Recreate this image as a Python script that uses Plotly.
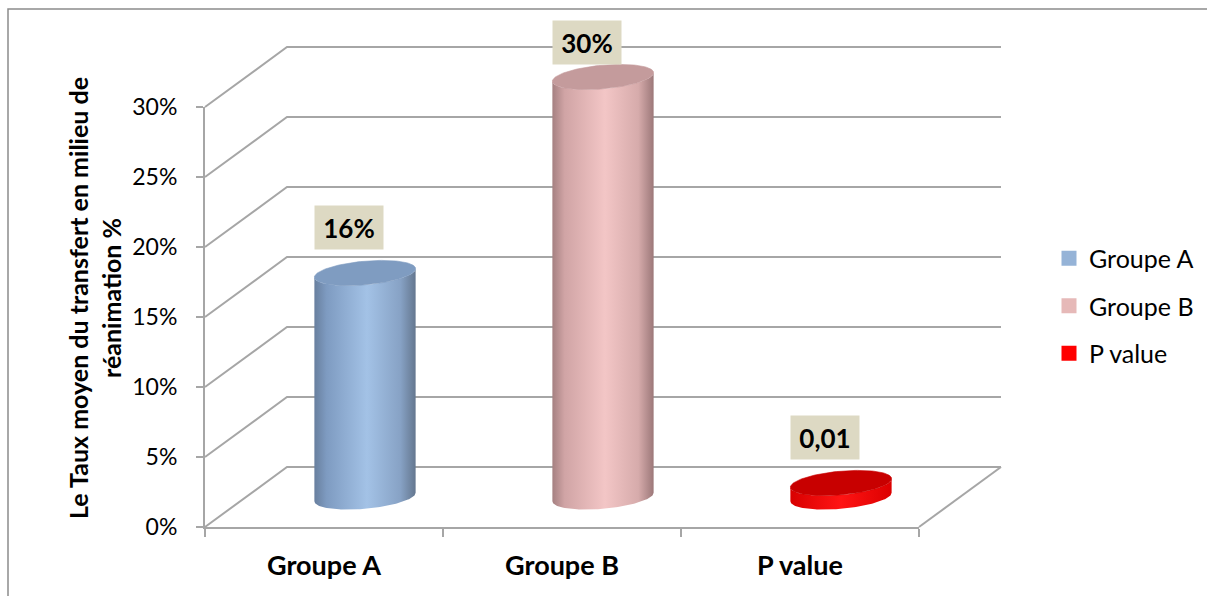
import numpy as np
import plotly.graph_objects as go

# ---- data -----------------------------------------------------------------
CATEGORIES = ["Groupe A", "Groupe B", "P value"]
VALUES = [0.16, 0.30, 0.01]
LABEL_STYLE = ["percent", "percent", "decimal"]
Y_TICKS = [0.0, 0.05, 0.10, 0.15, 0.20, 0.25, 0.30]
Y_MAX = 0.30

# ---- styles ---------------------------------------------------------------
LEGEND_COLORS = ["#95b3d7", "#e6b9b8", "#ff0000"]
BODY_SCALES = [
    [[0, "#687f9e"], [0.12, "#7e9bc1"], [0.52, "#a3c2e6"], [0.85, "#87a2c5"], [1, "#64778f"]],
    [[0, "#a58081"], [0.12, "#d0a4a5"], [0.52, "#f3c6c6"], [0.85, "#d6abab"], [1, "#9c7879"]],
    [[0, "#d80000"], [0.5, "#ff1414"], [1, "#dc0000"]],
]
TOP_COLORS = ["#7f9cc1", "#c49b9c", "#c80000"]
GRID_COLOR = "#a6a6a6"
LABEL_BG = "#ddd9c3"
FONT = "Lato"

# ---- page geometry (pixels) ----------------------------------------------
W, H = 1207, 596
X0_PX = 205          # front-left corner of the floor
Y0_PX = 527          # 0 % line at the front
CAT_PX = 238         # width of one category slot
VAL_PX = 1400        # pixels per unit of value (14 px per %)
DEPTH_PX = (82, -60) # offset from the front plane to the back wall

N = len(CATEGORIES)
DX = DEPTH_PX[0] / CAT_PX      # depth offset in category units
DY = -DEPTH_PX[1] / VAL_PX     # depth offset in value units
RX = 0.2                       # cylinder radius along the category axis
RD = 0.21                      # cylinder radius along the depth (fraction of depth)


def project(c, v, d):
    """Oblique projection of (category, value, depth) onto the drawing axes."""
    return c + d * DX, v + d * DY


fig = go.Figure()

# ---- walls and floor grid -------------------------------------------------
gx, gy = [], []
for v in Y_TICKS:
    for c, d in [(0, 0), (0, 1), (N, 1)]:
        x, y = project(c, v, d)
        gx.append(x)
        gy.append(y)
    gx.append(None)
    gy.append(None)
for d in (0, 1):
    x, y = project(N, 0, d)
    gx.append(x)
    gy.append(y)
fig.add_trace(go.Scatter(x=gx, y=gy, mode="lines", hoverinfo="skip",
                         line=dict(color=GRID_COLOR, width=2), showlegend=False))

# ---- cylinders --------------------------------------------------------------
t0 = np.arctan2(RD * DX, RX)
front = np.linspace(t0 + np.pi, t0 + 2 * np.pi, 80)
full = np.linspace(0, 2 * np.pi, 120)


def ring(c, v, ts):
    xs = c + RX * np.cos(ts) + (0.5 + RD * np.sin(ts)) * DX
    ys = v + (0.5 + RD * np.sin(ts)) * DY
    return xs, ys


for i, (cat, val) in enumerate(zip(CATEGORIES, VALUES)):
    c = i + 0.5
    bx, by = ring(c, 0.0, front)
    tx, ty = ring(c, val, front[::-1])
    fig.add_trace(go.Scatter(
        x=np.concatenate([bx, tx, bx[:1]]), y=np.concatenate([by, ty, by[:1]]),
        mode="lines", fill="toself", line=dict(width=0, color=TOP_COLORS[i]),
        fillgradient=dict(type="horizontal", colorscale=BODY_SCALES[i]),
        hoverinfo="skip", showlegend=False))
    cx, cy = ring(c, val, full)
    fig.add_trace(go.Scatter(
        x=cx, y=cy, mode="lines", fill="toself", fillcolor=TOP_COLORS[i],
        line=dict(width=0.6, color=TOP_COLORS[i]), hoverinfo="skip", showlegend=False))

    # value label above the cylinder, kept inside the chart frame
    lx, ly = project(c, val, 0.5)
    ly = min(ly + 46 / VAL_PX, (Y0_PX - 42) / VAL_PX)
    text = f"{val:.0%}" if LABEL_STYLE[i] == "percent" else f"{val:.2f}".replace(".", ",")
    fig.add_annotation(x=lx - 16 / CAT_PX, y=ly, xref="x", yref="y", text=f"<b>{text}</b>",
                       showarrow=False, bgcolor=LABEL_BG, width=68, height=43,
                       borderpad=0, font=dict(family=FONT, size=26, color="black"))

# ---- legend entries ---------------------------------------------------------
for i, cat in enumerate(CATEGORIES):
    fig.add_trace(go.Scatter(x=[None], y=[None], mode="markers", name=cat,
                             legendgroup=cat,
                             marker=dict(symbol="square", size=15, color=LEGEND_COLORS[i])))

# front axes (value axis and category axis)
fig.add_trace(go.Scatter(x=[None], y=[None], xaxis="x2", yaxis="y2", showlegend=False))

x_range = [-X0_PX / CAT_PX, (W - X0_PX) / CAT_PX]
y_range = [(Y0_PX - H) / VAL_PX, Y0_PX / VAL_PX]
axis_line = dict(showline=True, linecolor=GRID_COLOR, linewidth=2, showgrid=False,
                 zeroline=False, fixedrange=True)

fig.update_layout(
    width=W, height=H,
    margin=dict(l=0, r=0, t=0, b=0, autoexpand=False),
    paper_bgcolor="white", plot_bgcolor="rgba(0,0,0,0)",
    xaxis=dict(domain=[0, 1], range=x_range, visible=False, fixedrange=True),
    yaxis=dict(domain=[0, 1], range=y_range, visible=False, fixedrange=True),
    xaxis2=dict(domain=[X0_PX / W, (X0_PX + N * CAT_PX) / W], range=[0, N], anchor="y2",
                tickmode="array", tickvals=[i + 0.5 for i in range(N)],
                ticktext=[f"<b>{c}</b>" for c in CATEGORIES], ticks="",
                ticklabelstandoff=14,
                minor=dict(tickmode="array", tickvals=list(range(N + 1)), ticks="outside",
                           ticklen=8, tickwidth=2, tickcolor=GRID_COLOR, showgrid=False),
                tickfont=dict(family=FONT, size=27, color="black"), **axis_line),
    yaxis2=dict(domain=[(H - Y0_PX) / H, (H - Y0_PX + Y_MAX * VAL_PX) / H], range=[0, Y_MAX],
                anchor="x2", tickmode="array", tickvals=Y_TICKS, tickformat=".0%",
                ticks="outside", ticklen=7, tickwidth=2, tickcolor=GRID_COLOR,
                ticklabelstandoff=14,
                tickfont=dict(family=FONT, size=23, color="black"), **axis_line),
    legend=dict(x=1049 / W, y=(H - 306) / H, xanchor="left", yanchor="middle",
                font=dict(family=FONT, size=25, color="black"), tracegroupgap=12,
                bgcolor="rgba(0,0,0,0)"),
    showlegend=True,
)

# axis title
fig.add_annotation(x=94 / W, y=(H - 298) / H, xref="paper", yref="paper",
                   xanchor="center", yanchor="middle",
                   text="<b>Le Taux moyen du transfert en milieu de<br>réanimation %</b>",
                   textangle=-90, showarrow=False,
                   font=dict(family=FONT, size=25, color="black"))

# chart frame
fig.add_shape(type="rect", xref="paper", yref="paper", x0=8 / W, x1=1.02,
              y0=-0.02, y1=(H - 9) / H, line=dict(color="#8c8c8c", width=1.5))

fig.write_html("out.html")
